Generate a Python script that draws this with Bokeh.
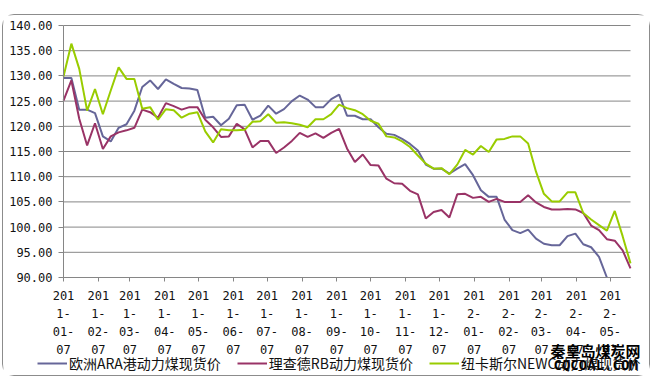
import math
import pandas as pd
from bokeh.plotting import figure
from bokeh.models import (Range1d, FixedTicker, CustomJSTickFormatter, NumeralTickFormatter,
                          Legend, LegendItem, Label)
from bokeh.embed import file_html
from bokeh.resources import INLINE

# ---- data (weekly prices, USD/t) ----
start_date = "2011-01-07"
nan = math.nan  # ARA falls below the chart floor (90) at the end: not visible
ara = [129.6, 129.6, 123.3, 123.3, 122.6, 118.0, 117.0, 119.7, 120.4, 123.1,
       127.8, 129.1, 127.4, 129.3, 128.4, 127.6, 127.5, 127.2, 121.7, 121.9,
       120.2, 121.5, 124.2, 124.3, 121.3, 122.1, 124.1, 122.5, 123.4, 125.0,
       126.1, 125.3, 123.8, 123.8, 125.4, 126.3, 122.1, 122.1, 121.4, 121.4,
       119.8, 118.5, 118.3, 117.5, 116.5, 115.2, 112.4, 111.6, 111.6, 110.6,
       111.6, 112.5, 110.3, 107.3, 106.0, 106.0, 101.5, 99.4, 98.8, 99.5,
       97.7, 96.7, 96.4, 96.4, 98.2, 98.7, 96.6, 96.0, 94.1, 90.0,
       nan, nan, nan]
rb = [125.1, 129.1, 121.5, 116.2, 120.6, 115.5, 118.0, 118.8, 119.2, 119.7,
      123.3, 122.8, 121.7, 124.6, 124.0, 123.3, 123.8, 123.8, 121.3, 119.8,
      117.9, 118.0, 120.5, 119.4, 115.8, 117.1, 117.1, 114.7, 115.8, 117.1,
      118.7, 117.9, 118.6, 117.7, 118.7, 119.5, 115.6, 112.9, 114.4, 112.3,
      112.2, 109.6, 108.7, 108.6, 107.2, 106.5, 101.7, 103.0, 103.4, 101.9,
      106.5, 106.6, 105.8, 106.0, 105.0, 105.6, 105.0, 105.0, 105.0, 106.3,
      104.9, 104.0, 103.5, 103.5, 103.6, 103.5, 102.8, 100.3, 99.4, 97.6,
      97.3, 95.4, 91.8]
newc = [129.9, 136.4, 131.4, 123.1, 127.4, 122.4, 127.1, 131.7, 129.4, 129.4,
        123.5, 123.8, 121.3, 123.4, 123.2, 121.7, 122.5, 122.8, 119.0, 116.8,
        119.4, 119.2, 119.2, 119.3, 120.9, 121.0, 122.4, 120.7, 120.8, 120.6,
        120.3, 119.8, 121.4, 121.4, 122.4, 124.3, 123.6, 123.2, 122.4, 121.1,
        120.5, 118.0, 117.8, 117.0, 115.9, 114.2, 112.6, 111.6, 111.7, 110.5,
        112.4, 115.3, 114.4, 116.1, 114.9, 117.4, 117.5, 118.0, 118.0, 116.6,
        111.0, 106.6, 105.1, 105.1, 106.9, 106.9, 102.8, 101.5, 100.4, 99.3,
        103.2, 98.2, 92.8]
series_names = ["欧洲ARA港动力煤现货价", "理查德RB动力煤现货价", "纽卡斯尔NEWC动力煤现货价"]
x_tick_dates = ["2011-01-07", "2011-02-07", "2011-03-07", "2011-04-07", "2011-05-07",
                "2011-06-07", "2011-07-07", "2011-08-07", "2011-09-07", "2011-10-07",
                "2011-11-07", "2011-12-07", "2012-01-07", "2012-02-07", "2012-03-07",
                "2012-04-07", "2012-05-07"]
y_ticks = [90, 95, 100, 105, 110, 115, 120, 125, 130, 135, 140]
watermark = ["秦皇岛煤炭网", "CQCOAL.COM"]

colors = ["#666699", "#993366", "#99CC00"]
dates = pd.date_range(start_date, periods=len(ara), freq="7D")

# ---- layout: the frame fills the canvas, axes are pinned inside it ----
W, H = 648, 362
pad_l, pad_r, pad_t, pad_b = 60, 21, 10, 100
plot_w, plot_h = W - pad_l - pad_r, H - pad_t - pad_b
y_lo, y_hi = min(y_ticks), max(y_ticks)
days = (dates[-1] - dates[0]) / pd.Timedelta(days=1)
px_day = plot_w / days
px_unit = plot_h / (y_hi - y_lo)
x_range = Range1d(dates[0] - pd.Timedelta(days=pad_l / px_day),
                  dates[-1] + pd.Timedelta(days=pad_r / px_day))
y_range = Range1d(y_lo - pad_b / px_unit, y_hi + pad_t / px_unit)

p = figure(width=W, height=H, x_axis_type="datetime", output_backend="svg",
           toolbar_location=None, x_range=x_range, y_range=y_range, min_border=0)
p.background_fill_color = "white"
p.border_fill_color = "white"
p.outline_line_color = None
p.styles = {"border": "1px solid #8c8c8c", "border-radius": "12px",
            "margin-left": "2px", "margin-top": "14px"}

grey = "#868686"
p.xgrid.visible = False
p.ygrid.visible = False
# horizontal grid lines at the y ticks, limited to the plot area
p.segment(x0=[dates[0]] * len(y_ticks), x1=[dates[-1]] * len(y_ticks),
          y0=y_ticks, y1=y_ticks, line_color=grey, line_width=1)

renderers = []
for vals, c in zip([ara, rb, newc], colors):
    r = p.line(dates, vals, line_color=c, line_width=2)
    renderers.append(r)

x0_ms = dates[0].value // 10**6
x1_ms = dates[-1].value // 10**6

label_font = "DejaVu Sans Mono"
xa = p.xaxis[0]
xa.fixed_location = y_lo
xa.bounds = (x0_ms, x1_ms)
xa.ticker = FixedTicker(ticks=[pd.Timestamp(d).value // 10**6 for d in x_tick_dates])
xa.formatter = CustomJSTickFormatter(code="""
const d = new Date(tick);
const s = d.getUTCFullYear() + "-" + String(d.getUTCMonth() + 1).padStart(2, "0") + "-" + String(d.getUTCDate()).padStart(2, "0");
return s.slice(0, 3) + "\\n" + s.slice(3, 5) + "\\n" + s.slice(5, 8) + "\\n" + s.slice(8);
""")
xa.axis_line_color = grey
xa.major_tick_line_color = grey
xa.major_tick_in = 0
xa.major_tick_out = 4
xa.minor_tick_line_color = None
xa.major_label_standoff = 7
xa.major_label_text_font = label_font
xa.major_label_text_font_size = "12px"
xa.major_label_text_color = "#111111"
xa.major_label_text_line_height = 1.3

ya = p.yaxis[0]
ya.fixed_location = x0_ms
ya.bounds = (y_lo, y_hi)
ya.ticker = FixedTicker(ticks=y_ticks)
ya.formatter = NumeralTickFormatter(format="0.00")
ya.axis_line_color = grey
ya.major_tick_line_color = grey
ya.major_tick_in = 0
ya.major_tick_out = 5
ya.minor_tick_line_color = None
ya.major_label_standoff = 6
ya.major_label_text_font = label_font
ya.major_label_text_font_size = "12px"
ya.major_label_text_color = "#111111"

legend = Legend(items=[LegendItem(label=n, renderers=[r]) for n, r in zip(series_names, renderers)],
                location=(34, 4), orientation="horizontal",
                glyph_width=30, glyph_height=20, label_height=20,
                label_standoff=2, spacing=16, padding=0, margin=0,
                border_line_color=None, background_fill_alpha=0,
                label_text_font="Noto Sans CJK SC", label_text_font_size="14px",
                label_text_color="#111111")
p.add_layout(legend, "center")

wm1 = Label(x=547, y=38, x_units="screen", y_units="screen", text=watermark[0],
            text_font="Noto Sans CJK SC", text_font_style="bold", text_font_size="15px",
            text_color="#000000", text_baseline="top")
wm2 = Label(x=550, y=21, x_units="screen", y_units="screen", text=watermark[1],
            text_font="DejaVu Sans Mono", text_font_style="bold", text_font_size="14px",
            text_color="#000000", text_baseline="top")
p.add_layout(wm1)
p.add_layout(wm2)

open("out.html", "w").write(file_html(p, INLINE))
